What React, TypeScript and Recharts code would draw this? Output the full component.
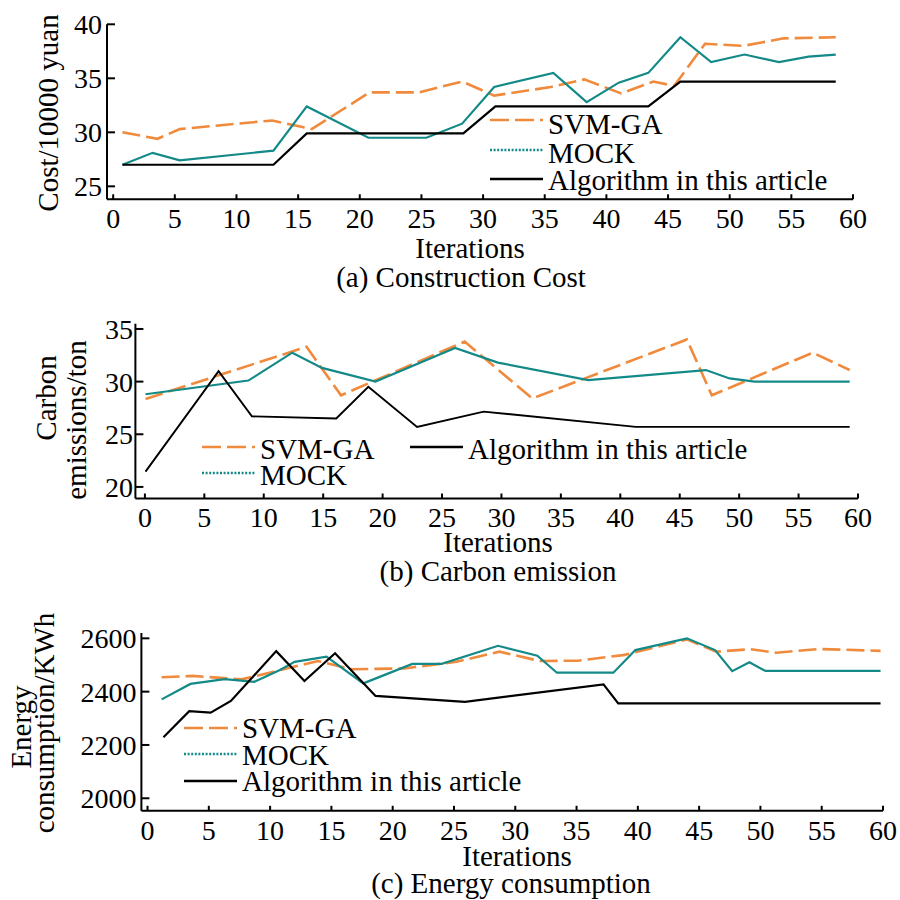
import React from "react";
import { LineChart, Line, XAxis, YAxis } from "recharts";

const FONT = '"Liberation Serif", "Times New Roman", serif';
const ORANGE = "#F08A3C";
const TEAL = "#138A88";

const iterTicks = [0, 5, 10, 15, 20, 25, 30, 35, 40, 45, 50, 55, 60];

// (a) construction cost
const costTicks = [25, 30, 35, 40];
const costSvmIter = [0.75, 3.6, 5.4, 12.9, 16.1, 20.8, 24.8, 28.3, 30.9, 35.5, 38.2, 41.2, 43.8, 45.5, 48.0, 51.1, 54.4, 58.6];
const costSvm = [30.0, 29.4, 30.3, 31.1, 30.3, 33.7, 33.7, 34.7, 33.4, 34.2, 34.9, 33.6, 34.7, 34.3, 38.2, 38.0, 38.7, 38.8];
const costMockIter = [0.75, 3.2, 5.4, 13.0, 15.7, 20.7, 25.4, 28.3, 30.9, 35.7, 38.4, 41.0, 43.4, 46.0, 48.5, 51.2, 54.0, 56.4, 58.6];
const costMock = [27.0, 28.1, 27.4, 28.3, 32.4, 29.5, 29.5, 30.8, 34.2, 35.5, 32.8, 34.6, 35.5, 38.8, 36.5, 37.2, 36.5, 37.0, 37.2];
const costOursIter = [0.75, 13.0, 15.7, 28.4, 31.0, 43.4, 46.0, 58.6];
const costOurs = [27.0, 27.0, 29.9, 29.9, 32.4, 32.4, 34.7, 34.7];

// (b) carbon emission
const carbTicks = [20, 25, 30, 35];
const carbSvmIter = [0.05, 13.6, 16.5, 26.9, 32.6, 45.6, 47.7, 56.2, 59.3];
const carbSvm = [28.35, 33.3, 28.7, 33.8, 28.4, 34.0, 28.7, 32.75, 31.1];
const carbMockIter = [0.05, 8.7, 12.4, 14.9, 19.4, 26.1, 29.7, 37.3, 47.2, 49.2, 51.3, 59.3];
const carbMock = [28.8, 30.1, 32.75, 31.3, 30.0, 33.2, 31.8, 30.15, 31.1, 30.3, 30.0, 30.0];
const carbOursIter = [0.05, 6.2, 9.0, 16.1, 18.8, 22.9, 28.5, 41.3, 59.3];
const carbOurs = [21.45, 31.0, 26.7, 26.5, 29.5, 25.7, 27.15, 25.7, 25.7];

// (c) energy consumption
const engTicks = [2000, 2200, 2400, 2600];
const engSvmIter = [1.15, 3.7, 7.7, 13.9, 16.7, 20.9, 25.2, 28.7, 32.0, 35.1, 38.8, 44.0, 46.4, 49.2, 51.3, 54.8, 59.8];
const engSvm = [2454, 2459, 2446, 2515, 2484, 2487, 2512, 2550, 2515, 2516, 2537, 2596, 2550, 2559, 2546, 2560, 2553];
const engMockIter = [1.15, 3.5, 6.3, 8.7, 10.8, 12.0, 14.6, 17.6, 21.6, 24.0, 28.6, 31.8, 33.4, 38.0, 39.8, 44.0, 46.3, 47.7, 49.1, 50.4, 59.8];
const engMock = [2371, 2429, 2447, 2437, 2481, 2512, 2531, 2431, 2504, 2504, 2572, 2535, 2471, 2471, 2556, 2600, 2556, 2477, 2510, 2478, 2478];
const engOursIter = [1.3, 3.4, 5.15, 6.8, 10.5, 12.8, 15.3, 18.6, 25.9, 37.2, 38.4, 59.8];
const engOurs = [2229, 2327, 2321, 2365, 2552, 2440, 2544, 2384, 2362, 2427, 2356, 2356];

const pts = (xs: number[], ys: number[]) => xs.map((it, i) => ({ it, v: ys[i] }));

type PanelProps = {
  top: number;
  height: number;
  axisX: number;
  axisRight: number;
  plotTop: number;
  plotBottom: number;
  xDomain: [number, number];
  yDomain: [number, number];
  yTicks: number[];
  yTickMargin: number;
  svm: { it: number; v: number }[];
  mock: { it: number; v: number }[];
  ours: { it: number; v: number }[];
  oursWidth?: number;
};

function Panel(p: PanelProps) {
  const xh = 40;
  const tickStyle = { fill: "#000", fontSize: 28, fontFamily: FONT };
  return (
    <div style={{ position: "absolute", left: 0, top: p.top }}>
      <LineChart
        width={900}
        height={p.height}
        margin={{ top: p.plotTop - p.top, right: 900 - p.axisRight, left: 0, bottom: p.top + p.height - p.plotBottom - xh }}
      >
        <XAxis
          type="number"
          dataKey="it"
          domain={p.xDomain}
          ticks={iterTicks}
          interval={0}
          allowDataOverflow
          height={xh}
          tick={tickStyle}
          tickSize={-5}
          tickMargin={14}
          axisLine={{ stroke: "#000", strokeWidth: 2 }}
          tickLine={{ stroke: "#000", strokeWidth: 2 }}
        />
        <YAxis
          type="number"
          domain={p.yDomain}
          ticks={p.yTicks}
          interval={0}
          allowDataOverflow
          width={p.axisX}
          tick={tickStyle}
          tickSize={-8}
          tickMargin={p.yTickMargin}
          axisLine={{ stroke: "#000", strokeWidth: 2 }}
          tickLine={{ stroke: "#000", strokeWidth: 2 }}
        />
        <Line data={p.svm} dataKey="v" type="linear" stroke={ORANGE} strokeWidth={2.6} strokeDasharray="18 6" dot={false} isAnimationActive={false} />
        <Line data={p.mock} dataKey="v" type="linear" stroke={TEAL} strokeWidth={2.2} dot={false} isAnimationActive={false} />
        <Line data={p.ours} dataKey="v" type="linear" stroke="#000" strokeWidth={p.oursWidth ?? 2.2} dot={false} isAnimationActive={false} />
      </LineChart>
    </div>
  );
}

function LegendItem({ x, y, lineY, kind, label }: { x: number; y: number; lineY: number; kind: string; label: string }) {
  const x0 = x - 58;
  const x1 = x - 5;
  let line;
  if (kind === "svm") line = <line x1={x0} x2={x1} y1={lineY} y2={lineY} stroke={ORANGE} strokeWidth={2.6} strokeDasharray="19 6 19 6 3" />;
  else if (kind === "mock") line = <line x1={x0} x2={x1} y1={lineY} y2={lineY} stroke={TEAL} strokeWidth={2.5} strokeDasharray="2 1.6" />;
  else line = <line x1={x0} x2={x1} y1={lineY} y2={lineY} stroke="#000" strokeWidth={2.4} />;
  return (
    <g>
      {line}
      <text x={x} y={y} fontSize={29} fontFamily={FONT} fill="#000">{label}</text>
    </g>
  );
}

export default function App() {
  const t = { fontFamily: FONT, fontSize: 29, fill: "#000" };
  return (
    <div style={{ position: "absolute", left: 0, top: 0, width: 900, height: 900, background: "#fff", overflow: "hidden" }}>
      <Panel
        top={0} height={300} axisX={107} axisRight={853} plotTop={24.3} plotBottom={199.3}
        xDomain={[-0.5, 60]} yDomain={[23.8, 40]} yTicks={costTicks} yTickMargin={13}
        svm={pts(costSvmIter, costSvm)} mock={pts(costMockIter, costMock)} ours={pts(costOursIter, costOurs)}
      />
      <Panel
        top={300} height={250} axisX={135.4} axisRight={858} plotTop={323.7} plotBottom={498.5}
        xDomain={[-0.8, 60]} yDomain={[18.9, 35.5]} yTicks={carbTicks} yTickMargin={10.5}
        svm={pts(carbSvmIter, carbSvm)} mock={pts(carbMockIter, carbMock)} ours={pts(carbOursIter, carbOurs)} oursWidth={1.9}
      />
      <Panel
        top={600} height={290} axisX={141.4} axisRight={883} plotTop={633} plotBottom={810.8}
        xDomain={[-0.5, 60]} yDomain={[1953, 2620]} yTicks={engTicks} yTickMargin={13}
        svm={pts(engSvmIter, engSvm)} mock={pts(engMockIter, engMock)} ours={pts(engOursIter, engOurs)}
      />
      <svg width={900} height={900} style={{ position: "absolute", left: 0, top: 0, pointerEvents: "none" }}>
        {/* (a) */}
        <text {...t} transform="translate(58,113) rotate(-90)" textAnchor="middle">Cost/10000 yuan</text>
        <text {...t} x={470} y={258} textAnchor="middle">Iterations</text>
        <text {...t} x={461} y={287} textAnchor="middle">(a) Construction Cost</text>
        <LegendItem x={548} y={134} lineY={120} kind="svm" label="SVM-GA" />
        <LegendItem x={548} y={163} lineY={150} kind="mock" label="MOCK" />
        <LegendItem x={548} y={190} lineY={179} kind="ours" label="Algorithm in this article" />
        {/* (b) */}
        <text {...t} transform="translate(56,398) rotate(-90)" textAnchor="middle">Carbon</text>
        <text {...t} transform="translate(86,420) rotate(-90)" textAnchor="middle">emissions/ton</text>
        <text {...t} x={498} y={552} textAnchor="middle">Iterations</text>
        <text {...t} x={498} y={581} textAnchor="middle">(b) Carbon emission</text>
        <LegendItem x={260} y={459} lineY={447} kind="svm" label="SVM-GA" />
        <LegendItem x={260} y={485} lineY={473} kind="mock" label="MOCK" />
        <LegendItem x={468} y={459} lineY={447} kind="ours" label="Algorithm in this article" />
        {/* (c) */}
        <text {...t} transform="translate(31,727) rotate(-90)" textAnchor="middle">Energy</text>
        <text {...t} transform="translate(54,723) rotate(-90)" textAnchor="middle">consumption/KWh</text>
        <text {...t} x={517} y={866} textAnchor="middle">Iterations</text>
        <text {...t} x={511} y={893} textAnchor="middle">(c) Energy consumption</text>
        <LegendItem x={242} y={738} lineY={728} kind="svm" label="SVM-GA" />
        <LegendItem x={242} y={765} lineY={754} kind="mock" label="MOCK" />
        <LegendItem x={242} y={791} lineY={781} kind="ours" label="Algorithm in this article" />
      </svg>
    </div>
  );
}
